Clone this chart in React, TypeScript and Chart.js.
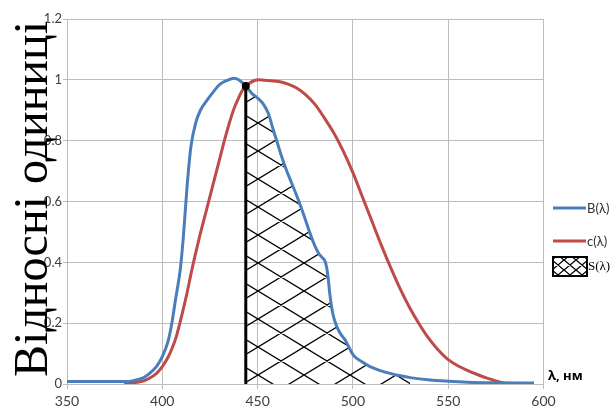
import React, { useEffect, useRef } from "react";
import { Chart, registerables } from "chart.js";

Chart.register(...registerables);

// ---- data ----
const blueX = [350, 370, 380, 385, 390, 393, 397, 400, 403, 405, 407, 409.4, 411, 413, 415, 417.6, 420, 423.7, 427, 430, 434, 437.7, 440, 443.8, 447, 450, 453, 455.6, 458.2, 460, 462.6, 465, 467.9, 471.4, 474, 477.5, 480, 482, 484, 485.6, 486.8, 488, 489.5, 491.5, 493.5, 495.9, 498, 500.2, 505, 509, 514, 519.5, 525, 530, 540.5, 550, 560, 575, 595];
const blueY = [0.008, 0.008, 0.008, 0.011, 0.02, 0.033, 0.058, 0.09, 0.14, 0.2, 0.28, 0.375, 0.48, 0.65, 0.78, 0.86, 0.9, 0.935, 0.962, 0.984, 0.998, 1.005, 1.0, 0.98, 0.955, 0.94, 0.92, 0.89, 0.836, 0.8, 0.748, 0.705, 0.66, 0.605, 0.56, 0.496, 0.455, 0.43, 0.415, 0.4, 0.36, 0.29, 0.23, 0.19, 0.165, 0.145, 0.12, 0.095, 0.072, 0.057, 0.045, 0.035, 0.027, 0.021, 0.013, 0.009, 0.006, 0.004, 0.003];

const redX = [380, 385, 390, 393, 397, 400, 403, 405, 407.3, 410, 413, 415.5, 419, 423.3, 427, 430.3, 433, 437.3, 440, 442.5, 446, 450.4, 455, 461.8, 466, 470.5, 475, 480, 485, 490, 495, 500, 505, 510, 515, 520, 525, 530, 535, 540, 545, 550, 555, 560, 565, 570, 575, 580];
const redY = [0, 0.004, 0.01, 0.018, 0.035, 0.057, 0.088, 0.115, 0.155, 0.22, 0.3, 0.375, 0.47, 0.575, 0.665, 0.745, 0.81, 0.9, 0.94, 0.97, 0.99, 1.0, 0.998, 0.994, 0.986, 0.973, 0.952, 0.92, 0.875, 0.825, 0.765, 0.695, 0.615, 0.535, 0.455, 0.38, 0.31, 0.248, 0.195, 0.148, 0.11, 0.08, 0.06, 0.045, 0.032, 0.02, 0.01, 0.002];

// S(λ) region: from the marked wavelength under the B(λ) curve
const sStart = 443.8;
const sTop = 0.98;
const sEnd = 532;

const xMin = 350;
const xMax = 600;
const xStep = 50;
const yMin = 0;
const yMax = 1.2;
const yStep = 0.2;

const seriesLabels = ["B(λ)", "c(λ)", "S(λ)"];
const yTitle = "Відносні одиниці";
const xTitle = "λ, нм";

const BLUE = "#4a7ebb";
const RED = "#be4b48";

function makeHatch(w: number, h: number, lw: number) {
  const c = document.createElement("canvas");
  c.width = w;
  c.height = h;
  const g = c.getContext("2d")!;
  g.strokeStyle = "#000";
  g.lineWidth = lw;
  g.beginPath();
  for (let i = -1; i <= 1; i++) {
    for (let j = -1; j <= 1; j++) {
      const ox = i * w;
      const oy = j * h;
      g.moveTo(ox, oy);
      g.lineTo(ox + w, oy + h);
      g.moveTo(ox, oy + h);
      g.lineTo(ox + w, oy);
    }
  }
  g.stroke();
  return c;
}

export default function App() {
  const ref = useRef<HTMLCanvasElement | null>(null);

  useEffect(() => {
    const canvas = ref.current!;
    const ctx = canvas.getContext("2d")!;
    const tileW = 46;
    const tileH = 28;
    const bigTile = makeHatch(tileW, tileH, 1.3);
    const pattern = ctx.createPattern(bigTile, "repeat")!;
    try {
      pattern.setTransform(new DOMMatrix().translate(258 % tileW, 263 % tileH));
    } catch (e) {}
    const smallTile = makeHatch(12, 10, 1.3);
    const smallPattern = ctx.createPattern(smallTile, "repeat")!;

    const blueData = blueX.map((x, i) => ({ x, y: blueY[i] }));
    const redData = redX.map((x, i) => ({ x, y: redY[i] }));
    const sData = [
      { x: sStart, y: 0 },
      { x: sStart, y: sTop },
      ...blueData.filter((p) => p.x > sStart && p.x <= sEnd),
    ];
    const markerData = [
      { x: sStart, y: 0 },
      { x: sStart, y: sTop },
    ];

    const overlay = {
      id: "overlay",
      afterDraw(chart: any) {
        const c = chart.ctx as CanvasRenderingContext2D;
        // y title
        c.save();
        c.fillStyle = "#000";
        c.font = '48px "Liberation Serif"';
        c.translate(47, 199);
        c.rotate(-Math.PI / 2);
        c.textAlign = "center";
        c.textBaseline = "alphabetic";
        c.fillText(yTitle, 0, 0);
        c.restore();

        // x title
        c.save();
        c.fillStyle = "#000";
        c.font = 'bold 13px "Open Sans"';
        c.textAlign = "left";
        c.textBaseline = "middle";
        c.fillText(xTitle, 548, 376);
        c.restore();

        // legend
        c.save();
        c.lineWidth = 3;
        c.lineCap = "butt";
        c.strokeStyle = BLUE;
        c.beginPath();
        c.moveTo(553, 208);
        c.lineTo(586, 208);
        c.stroke();
        c.strokeStyle = RED;
        c.beginPath();
        c.moveTo(553, 241);
        c.lineTo(586, 241);
        c.stroke();
        c.fillStyle = "#fff";
        c.fillRect(553, 257, 34, 19);
        c.fillStyle = smallPattern;
        c.fillRect(553, 257, 34, 19);
        c.strokeStyle = "#000";
        c.lineWidth = 2;
        c.strokeRect(553, 257, 34, 19);
        c.fillStyle = "#333";
        c.font = '13px "Lato"';
        c.textAlign = "left";
        c.textBaseline = "middle";
        c.fillText(seriesLabels[0], 587, 209);
        c.fillText(seriesLabels[1], 587, 242);
        c.font = '13px "Liberation Serif"';
        c.fillStyle = "#000";
        c.fillText(seriesLabels[2], 588, 267);
        c.restore();
      },
    };

    const chart = new Chart(canvas, {
      type: "line",
      data: {
        datasets: [
          {
            label: "marker",
            data: markerData,
            borderColor: "#000",
            borderWidth: 3,
            pointRadius: [0, 4],
            pointBackgroundColor: "#000",
            pointBorderWidth: 0,
            fill: false,
            tension: 0,
            order: 0,
          },
          {
            label: seriesLabels[0],
            data: blueData,
            borderColor: BLUE,
            borderWidth: 3,
            pointRadius: 0,
            fill: false,
            cubicInterpolationMode: "monotone",
            order: 1,
          },
          {
            label: seriesLabels[1],
            data: redData,
            borderColor: RED,
            borderWidth: 3,
            pointRadius: 0,
            fill: false,
            cubicInterpolationMode: "monotone",
            order: 2,
          },
          {
            label: seriesLabels[2],
            data: sData,
            borderWidth: 0,
            borderColor: "rgba(0,0,0,0)",
            backgroundColor: pattern as any,
            pointRadius: 0,
            fill: "origin",
            tension: 0,
            order: 3,
          },
        ],
      } as any,
      options: {
        responsive: false,
        animation: false,
        devicePixelRatio: 1,
        events: [],
        layout: { padding: { top: 19, right: 70.5, bottom: 0, left: 0 } },
        plugins: {
          legend: { display: false },
          tooltip: { enabled: false },
          title: { display: false },
        },
        scales: {
          x: {
            type: "linear",
            min: xMin,
            max: xMax,
            ticks: {
              stepSize: xStep,
              font: { family: "Lato", size: 14 },
              color: "#404040",
              padding: 4,
              maxRotation: 0,
            },
            grid: { color: "#bcbcbc", lineWidth: 1, tickLength: 5 },
            border: { color: "#bcbcbc" },
            afterFit: (s: any) => {
              s.height = 28;
            },
          },
          y: {
            type: "linear",
            min: yMin,
            max: yMax,
            ticks: {
              stepSize: yStep,
              font: { family: "Lato", size: 13 },
              color: "#404040",
              padding: 1,
              callback: (v: any) => String(Number(Number(v).toFixed(1))),
            },
            grid: { color: "#bcbcbc", lineWidth: 1, tickLength: 4 },
            border: { color: "#bcbcbc" },
            afterFit: (s: any) => {
              s.width = 67;
            },
          },
        },
      } as any,
      plugins: [overlay],
    });
    return () => chart.destroy();
  }, []);

  return (
    <div style={{ position: "absolute", left: 0, top: 0, width: 614, height: 412, background: "#fff" }}>
      <canvas ref={ref} width={614} height={412} style={{ display: "block" }} />
    </div>
  );
}
